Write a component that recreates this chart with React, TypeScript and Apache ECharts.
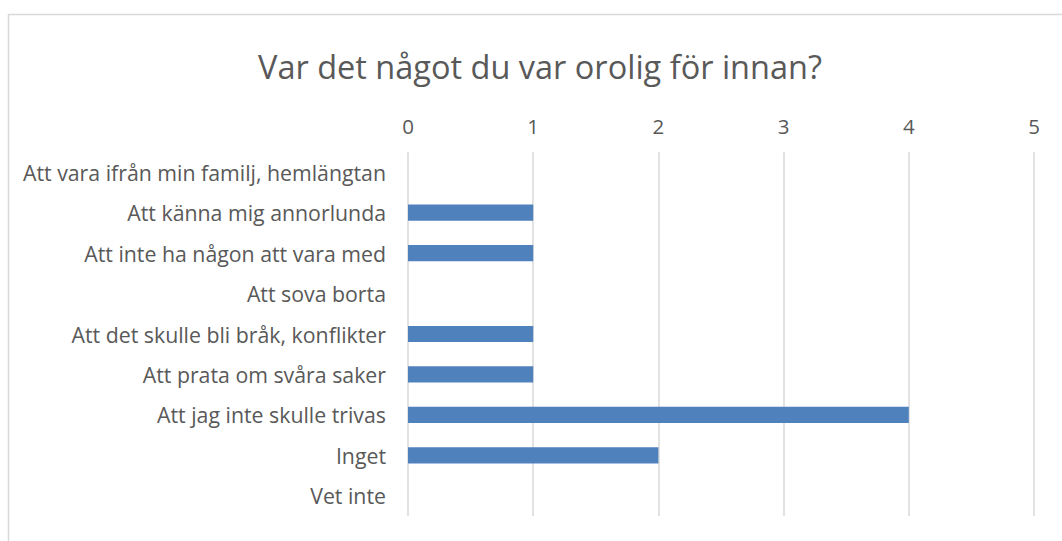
import React, { useEffect, useRef } from "react";
import * as echarts from "echarts";

const title = "Var det något du var orolig för innan?";
const categories = [
  "Att vara ifrån min familj, hemlängtan",
  "Att känna mig annorlunda",
  "Att inte ha någon att vara med",
  "Att sova borta",
  "Att det skulle bli bråk, konflikter",
  "Att prata om svåra saker",
  "Att jag inte skulle trivas",
  "Inget",
  "Vet inte",
];
const values = [0, 1, 1, 0, 1, 1, 4, 2, 0];
const axisMin = 0;
const axisMax = 5;
const axisStep = 1;

export default function App() {
  const ref = useRef<HTMLDivElement>(null);
  useEffect(() => {
    if (!ref.current) return;
    const chart = echarts.init(ref.current, null, { renderer: "svg" });
    const font = "'Open Sans', Lato, sans-serif";
    chart.setOption({
      animation: false,
      backgroundColor: "#ffffff",
      title: {
        text: title,
        left: 535,
        textAlign: "center",
        top: 45,
        textStyle: { fontFamily: font, fontSize: 32.5, fontWeight: "normal", color: "#595959" },
      },
      graphic: [
        {
          type: "rect",
          shape: { x: 8.5, y: 14.5, width: 1070, height: 600 },
          style: { fill: "none", stroke: "#d9d9d9", lineWidth: 1.5 },
          silent: true,
        },
      ],
      grid: { left: 408, top: 152, width: 626, height: 364, containLabel: false },
      xAxis: {
        type: "value",
        position: "top",
        min: axisMin,
        max: axisMax,
        interval: axisStep,
        axisLine: { show: false },
        axisTick: { show: false },
        axisLabel: { fontFamily: font, fontSize: 20.5, color: "#595959", margin: 16 },
        splitLine: { show: true, lineStyle: { color: "#d9d9d9", width: 1.5 } },
      },
      yAxis: {
        type: "category",
        data: categories,
        inverse: true,
        axisLine: { show: false },
        axisTick: { show: false },
        axisLabel: { fontFamily: font, fontSize: 21.3, color: "#595959", margin: 22 },
      },
      series: [
        {
          type: "bar",
          data: values,
          barWidth: "40%",
          itemStyle: { color: "#4f81bd" },
        },
      ],
    });
    return () => chart.dispose();
  }, []);
  return (
    <div
      ref={ref}
      style={{ position: "fixed", left: 0, top: 0, width: 1062, height: 541 }}
    />
  );
}
